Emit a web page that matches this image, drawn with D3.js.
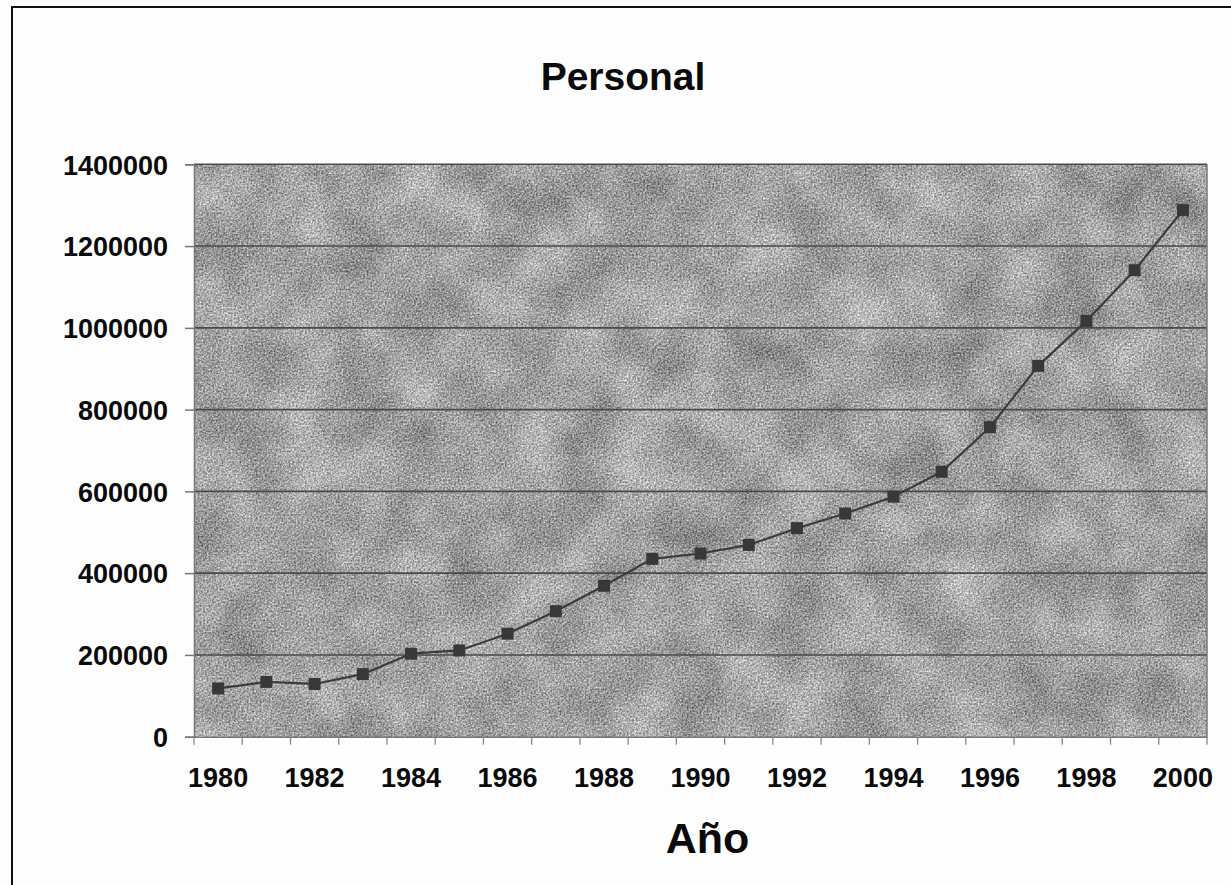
<!DOCTYPE html>
<html>
<head>
<meta charset="utf-8">
<script src="https://cdn.jsdelivr.net/npm/d3@7"></script>
<style>
  body { margin: 0; background: #fdfdfd; }
  text { font-family: Arial, "Liberation Sans", sans-serif; font-weight: bold; fill: #0a0a0a; }
</style>
</head>
<body>
<div id="chart"></div>
<script>
const width = 1231;
const height = 885;

// data
const years = [1980, 1981, 1982, 1983, 1984, 1985, 1986, 1987, 1988, 1989, 1990,
               1991, 1992, 1993, 1994, 1995, 1996, 1997, 1998, 1999, 2000];
const personal = [118000, 134000, 129000, 153000, 203000, 211000, 252000, 307000, 369000, 435000, 448000,
                  469000, 510000, 546000, 587000, 648000, 757000, 907000, 1017000, 1141000, 1288000];
const yTicks = [0, 200000, 400000, 600000, 800000, 1000000, 1200000, 1400000];
const xLabels = [1980, 1982, 1984, 1986, 1988, 1990, 1992, 1994, 1996, 1998, 2000];

const plot = { left: 194, right: 1207, top: 164.3, bottom: 736.7 };

const svg = d3.select("#chart")
    .append("svg")
    .attr("width", width)
    .attr("height", height);

// granite-like texture for the plot background
const defs = svg.append("defs");
const filter = defs.append("filter")
    .attr("id", "granite")
    .attr("x", 0).attr("y", 0).attr("width", "100%").attr("height", "100%")
    .attr("color-interpolation-filters", "sRGB");
const grey = "1 0 0 0 0 1 0 0 0 0 1 0 0 0 0 0 0 0 0 1";
filter.append("feTurbulence").attr("type", "fractalNoise").attr("baseFrequency", 0.018)
    .attr("numOctaves", 3).attr("seed", 7).attr("result", "coarse");
filter.append("feColorMatrix").attr("in", "coarse").attr("type", "matrix").attr("values", grey).attr("result", "coarseG");
filter.append("feTurbulence").attr("type", "fractalNoise").attr("baseFrequency", 0.55)
    .attr("numOctaves", 2).attr("seed", 2).attr("result", "fine");
filter.append("feColorMatrix").attr("in", "fine").attr("type", "matrix").attr("values", grey).attr("result", "fineG");
filter.append("feComposite").attr("in", "coarseG").attr("in2", "fineG").attr("operator", "arithmetic")
    .attr("k1", 0).attr("k2", 0.3).attr("k3", 0.7).attr("k4", 0).attr("result", "mix");
const ct = filter.append("feComponentTransfer").attr("in", "mix");
["feFuncR", "feFuncG", "feFuncB"].forEach(f => ct.append(f).attr("type", "linear").attr("slope", 1.05).attr("intercept", 0.11));
ct.append("feFuncA").attr("type", "linear").attr("slope", 0).attr("intercept", 1);

// outer frame
svg.append("rect")
    .attr("x", 12).attr("y", 7)
    .attr("width", width + 20).attr("height", height + 20)
    .attr("fill", "none")
    .attr("stroke", "#111")
    .attr("stroke-width", 2);

const x = d3.scaleBand()
    .domain(years)
    .range([plot.left, plot.right]);

const y = d3.scaleLinear()
    .domain([0, 1400000])
    .range([plot.bottom, plot.top]);

svg.append("rect")
    .attr("x", plot.left).attr("y", plot.top)
    .attr("width", plot.right - plot.left).attr("height", plot.bottom - plot.top)
    .attr("filter", "url(#granite)");

// gridlines
svg.append("g")
    .selectAll("line")
    .data(yTicks.filter(d => d > 0))
    .join("line")
    .attr("x1", plot.left).attr("x2", plot.right)
    .attr("y1", d => y(d)).attr("y2", d => y(d))
    .attr("stroke", "#4a4a4a")
    .attr("stroke-width", 1.6);

// plot border on the right side
svg.append("line")
    .attr("x1", plot.right).attr("x2", plot.right)
    .attr("y1", plot.top).attr("y2", plot.bottom)
    .attr("stroke", "#777").attr("stroke-width", 1.5);

// y axis
const yAxis = svg.append("g")
    .attr("transform", `translate(${plot.left},0)`)
    .call(d3.axisLeft(y).tickValues(yTicks).tickSize(9).tickPadding(17).tickFormat(d3.format("d")));
yAxis.select(".domain").attr("stroke", "#777").attr("stroke-width", 1.5);
yAxis.selectAll(".tick line").attr("stroke", "#777").attr("stroke-width", 1.5);
yAxis.selectAll("text").attr("font-size", 27).attr("dy", "0.36em").attr("fill", "#0a0a0a");

// x axis: ticks at category boundaries, labels on every other year
const xAxis = svg.append("g")
    .attr("transform", `translate(0,${plot.bottom})`)
    .call(d3.axisBottom(x).tickValues(xLabels).tickSize(0).tickPadding(50));
xAxis.select(".domain").attr("stroke", "#777").attr("stroke-width", 1.5);
xAxis.selectAll("text").attr("font-size", 27).attr("dy", 0).attr("fill", "#0a0a0a");

const bounds = years.map(d => x(d)).concat([plot.right]);
svg.append("g")
    .selectAll("line")
    .data(bounds)
    .join("line")
    .attr("x1", d => d).attr("x2", d => d)
    .attr("y1", plot.bottom).attr("y2", plot.bottom + 8)
    .attr("stroke", "#888")
    .attr("stroke-width", 1.3);

// series
const cx = d => x(d) + x.bandwidth() / 2;
const line = d3.line()
    .x((d, i) => cx(years[i]))
    .y(d => y(d));

svg.append("path")
    .datum(personal)
    .attr("d", line)
    .attr("fill", "none")
    .attr("stroke", "#3c3c3c")
    .attr("stroke-width", 2.2);

const size = 12;
svg.append("g")
    .selectAll("rect")
    .data(personal)
    .join("rect")
    .attr("x", (d, i) => cx(years[i]) - size / 2)
    .attr("y", d => y(d) - size / 2)
    .attr("width", size)
    .attr("height", size)
    .attr("fill", "#383838");

// titles
svg.append("text")
    .attr("x", 623).attr("y", 90)
    .attr("text-anchor", "middle")
    .attr("font-size", 39)
    .text("Personal");

svg.append("text")
    .attr("x", (plot.left + plot.right) / 2 + 7).attr("y", 853)
    .attr("text-anchor", "middle")
    .attr("font-size", 43)
    .text("Año");
</script>
</body>
</html>
